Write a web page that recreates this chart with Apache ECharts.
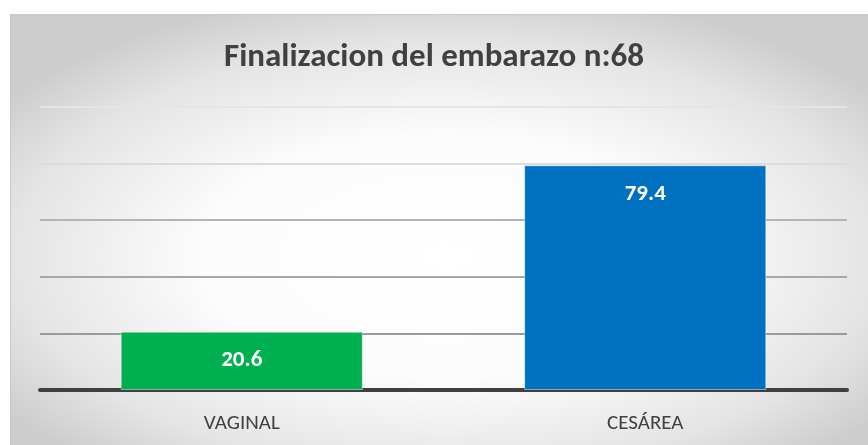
<!DOCTYPE html>
<html>
<head>
<meta charset="utf-8">
<script src="https://cdn.jsdelivr.net/npm/echarts@6/dist/echarts.min.js"></script>
<style>
  html, body { margin: 0; padding: 0; background: #ffffff; }
  #chart { width: 868px; height: 445px; }
</style>
</head>
<body>
<div id="chart"></div>
<script>
var categories = ['VAGINAL', 'CESÁREA'];
var values = [20.6, 79.4];
var barColors = ['#00B050', '#0070C0'];
var titleText = 'Finalizacion del embarazo n:68';

var font = 'Carlito, Lato, sans-serif';

var chart = echarts.init(document.getElementById('chart'), null, { renderer: 'canvas' });

var option = {
  animation: false,
  title: {
    text: titleText,
    left: 'center',
    top: 36,
    textStyle: { fontFamily: font, fontSize: 33, fontWeight: 'bold', color: '#404040' }
  },
  graphic: [{
    // chart area background: elliptic radial gradient, white in the middle
    type: 'rect',
    z: -10,
    silent: true,
    x: 10.5,
    y: 14.5,
    scaleX: 2,
    shape: { x: 0, y: 0, width: 435, height: 440 },
    style: {
      fill: {
        type: 'radial', x: 0.5, y: 0.55, r: 0.62,
        colorStops: [
          { offset: 0, color: '#ffffff' },
          { offset: 0.45, color: '#fcfcfc' },
          { offset: 0.8, color: '#e4e4e4' },
          { offset: 1, color: '#cdcdcd' }
        ]
      },
      stroke: '#bfbfbf',
      lineWidth: 0.5
    }
  }],
  grid: { left: 40, right: 21, top: 107, bottom: 55 },
  xAxis: {
    type: 'category',
    data: categories,
    axisTick: { show: false },
    axisLine: { lineStyle: { color: '#404040', width: 4 } },
    axisLabel: { margin: 23, fontFamily: font, fontSize: 21, color: '#404040' }
  },
  yAxis: {
    type: 'value',
    min: 0,
    max: 100,
    interval: 20,
    axisLabel: { show: false },
    axisLine: { show: false },
    axisTick: { show: false },
    splitLine: {
      lineStyle: {
        width: 2,
        color: {
          type: 'linear', x: 0, y: 100, x2: 0, y2: 340, global: true,
          colorStops: [
            { offset: 0, color: '#e6e6e6' },
            { offset: 0.3, color: '#dadada' },
            { offset: 0.5, color: '#b4b4b4' },
            { offset: 1, color: '#999999' }
          ]
        }
      }
    }
  },
  series: [{
    type: 'bar',
    barWidth: '60%',
    data: values.map(function (v, i) {
      return { value: v, itemStyle: { color: barColors[i] } };
    }),
    itemStyle: { borderColor: 'rgba(255,255,255,0.45)', borderWidth: 1 },
    label: {
      show: true,
      position: 'insideTop',
      distance: 17,
      fontFamily: font,
      fontSize: 23,
      fontWeight: 'bold',
      color: '#ffffff',
      formatter: function (p) { return p.value.toFixed(1); }
    }
  }]
};

chart.setOption(option);
</script>
</body>
</html>
